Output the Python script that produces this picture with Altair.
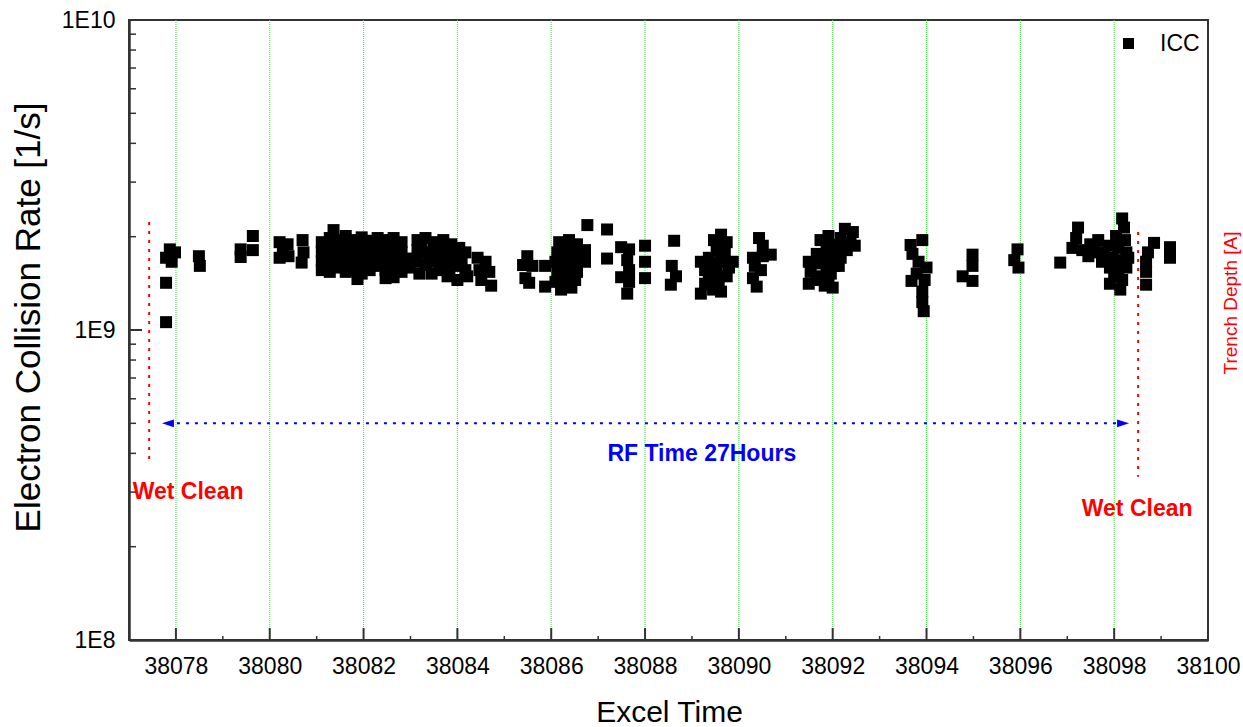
import altair as alt
import pandas as pd

FONT = "Liberation Sans"

# ---- ICC series (Excel time, electron collision rate in 1/s) ----
icc_time = [
    38077.87, 38077.98, 38077.79, 38077.91, 38077.79, 38077.79,
    38078.49, 38078.51,
    38079.38, 38079.38, 38079.64, 38079.64,
    38080.21, 38080.38, 38080.21, 38080.40, 38080.28,
    38080.70, 38080.72, 38080.68,
    38081.11, 38081.11, 38081.11, 38081.11,
    38081.28, 38081.28, 38081.28, 38081.28, 38081.28,
    38081.36,
    38081.45, 38081.45, 38081.45, 38081.45,
    38081.62, 38081.62, 38081.62, 38081.62, 38081.62,
    38081.79, 38081.79, 38081.79, 38081.79,
    38081.87,
    38081.96, 38081.96, 38081.96, 38081.96, 38081.96,
    38082.13, 38082.13, 38082.13, 38082.13,
    38082.30, 38082.30, 38082.30, 38082.30,
    38082.47, 38082.47, 38082.47, 38082.47, 38082.47,
    38082.64, 38082.64, 38082.64, 38082.64, 38082.64,
    38082.81, 38082.81, 38082.81, 38082.81,
    38082.98, 38082.98,
    38081.19, 38081.19, 38081.19, 38081.53, 38081.53, 38081.53,
    38081.70, 38081.70, 38081.70, 38082.04, 38082.04, 38082.04,
    38082.21, 38082.21, 38082.21, 38082.38, 38082.38, 38082.38,
    38082.55, 38082.55, 38082.55, 38082.72, 38082.72, 38082.72,
    38083.15, 38083.15, 38083.15, 38083.32, 38083.32, 38083.49, 38083.36,
    38083.53, 38083.53, 38083.19, 38083.45, 38083.70, 38083.70, 38083.87,
    38083.87, 38084.04, 38084.17, 38084.17, 38083.74, 38083.96, 38083.79,
    38084.00, 38084.21,
    38083.23, 38083.40, 38083.62, 38083.62, 38083.96, 38084.09, 38083.83,
    38084.43, 38084.60, 38084.47, 38084.68, 38084.51, 38084.72,
    38085.49, 38085.40, 38085.60, 38085.45, 38085.53,
    38085.87, 38085.87,
    38086.17, 38086.38, 38086.55, 38086.13, 38086.34, 38086.55, 38086.72,
    38086.09, 38086.30, 38086.51, 38086.72, 38086.13, 38086.34, 38086.55,
    38086.09, 38086.30, 38086.51, 38086.21, 38086.43, 38086.77,
    38086.21, 38086.47, 38086.21, 38086.43, 38086.64, 38086.21, 38086.47,
    38086.21, 38086.43,
    38087.19, 38087.19,
    38087.49, 38087.66, 38087.62, 38087.66, 38087.49, 38087.66, 38087.62,
    38088.00, 38088.00, 38088.00,
    38088.62, 38088.57, 38088.66, 38088.55,
    38089.47, 38089.62, 38089.74, 38089.19, 38089.36, 38089.53, 38089.70,
    38089.87, 38089.28, 38089.45, 38089.62, 38089.79, 38089.36, 38089.57,
    38089.19, 38089.45, 38089.62,
    38089.53, 38089.40, 38089.70, 38089.53, 38089.28, 38089.74,
    38090.43, 38090.51, 38090.30, 38090.51, 38090.68, 38090.34, 38090.47,
    38090.30, 38090.38,
    38092.26, 38092.43, 38092.17, 38092.38, 38092.09, 38092.30, 38092.47,
    38091.74, 38091.91, 38091.87, 38091.66, 38091.83, 38092.00, 38092.17,
    38091.49, 38091.66, 38091.87, 38092.04, 38091.53, 38091.74, 38091.96,
    38091.49, 38091.83, 38092.00,
    38092.00, 38092.21, 38091.74, 38092.13, 38091.66, 38091.91,
    38093.91, 38093.66, 38093.70, 38093.83, 38094.00, 38093.79, 38093.96,
    38093.68, 38093.91, 38093.91, 38093.94,
    38094.77, 38094.98, 38094.98, 38094.98,
    38095.94, 38095.87, 38095.96,
    38096.85,
    38097.23, 38097.19, 38097.11, 38097.32, 38097.49, 38097.66, 38097.45,
    38097.66, 38097.74, 38098.17, 38098.21, 38098.04, 38098.23, 38097.87,
    38098.09, 38098.26, 38097.96, 38098.17, 38098.09, 38098.26, 38098.00,
    38098.17, 38097.91, 38098.13,
    38097.79, 38097.91, 38098.30, 38097.57,
    38098.85, 38098.72, 38098.68, 38098.68, 38098.68,
    38099.19, 38099.19,
]

icc_rate = [
    1.82e9, 1.78e9, 1.71e9, 1.66e9, 1.42e9, 1.06e9,
    1.73e9, 1.61e9,
    1.82e9, 1.72e9, 2.01e9, 1.81e9,
    1.92e9, 1.89e9, 1.71e9, 1.73e9, 1.81e9,
    1.95e9, 1.78e9, 1.65e9,
    1.92e9, 1.79e9, 1.67e9, 1.56e9,
    1.98e9, 1.85e9, 1.73e9, 1.62e9, 1.54e9,
    2.10e9,
    1.95e9, 1.81e9, 1.70e9, 1.59e9,
    2.01e9, 1.88e9, 1.76e9, 1.65e9, 1.54e9,
    1.95e9, 1.81e9, 1.68e9, 1.56e9,
    1.46e9,
    1.99e9, 1.87e9, 1.73e9, 1.61e9, 1.52e9,
    1.94e9, 1.79e9, 1.67e9, 1.56e9,
    1.98e9, 1.85e9, 1.72e9, 1.61e9,
    1.95e9, 1.81e9, 1.68e9, 1.56e9, 1.47e9,
    1.98e9, 1.84e9, 1.71e9, 1.59e9, 1.48e9,
    1.92e9, 1.78e9, 1.66e9, 1.54e9,
    1.70e9, 1.59e9,
    1.88e9, 1.75e9, 1.62e9, 1.88e9, 1.75e9, 1.62e9,
    1.88e9, 1.75e9, 1.62e9, 1.88e9, 1.75e9, 1.62e9,
    1.88e9, 1.75e9, 1.62e9, 1.88e9, 1.75e9, 1.62e9,
    1.88e9, 1.75e9, 1.62e9, 1.88e9, 1.75e9, 1.62e9,
    1.95e9, 1.81e9, 1.66e9, 1.98e9, 1.62e9, 1.92e9, 1.78e9,
    1.81e9, 1.66e9, 1.52e9, 1.52e9, 1.95e9, 1.78e9, 1.89e9,
    1.73e9, 1.84e9, 1.78e9, 1.56e9, 1.64e9, 1.61e9, 1.49e9,
    1.45e9, 1.49e9,
    1.87e9, 1.71e9, 1.87e9, 1.56e9, 1.81e9, 1.68e9, 1.56e9,
    1.71e9, 1.66e9, 1.56e9, 1.54e9, 1.45e9, 1.39e9,
    1.73e9, 1.62e9, 1.61e9, 1.47e9, 1.42e9,
    1.61e9, 1.38e9,
    1.92e9, 1.95e9, 1.89e9, 1.78e9, 1.81e9, 1.76e9, 1.81e9,
    1.66e9, 1.66e9, 1.66e9, 1.66e9, 1.54e9, 1.54e9, 1.54e9,
    1.43e9, 1.41e9, 1.45e9, 1.35e9, 1.37e9, 2.18e9,
    1.85e9, 1.85e9, 1.71e9, 1.72e9, 1.73e9, 1.59e9, 1.60e9,
    1.47e9, 1.46e9,
    2.11e9, 1.70e9,
    1.85e9, 1.82e9, 1.68e9, 1.56e9, 1.48e9, 1.43e9, 1.31e9,
    1.87e9, 1.66e9, 1.47e9,
    1.94e9, 1.61e9, 1.49e9, 1.40e9,
    1.95e9, 2.03e9, 1.92e9, 1.66e9, 1.71e9, 1.81e9, 1.78e9,
    1.66e9, 1.56e9, 1.59e9, 1.66e9, 1.59e9, 1.47e9, 1.45e9,
    1.31e9, 1.35e9, 1.33e9,
    1.87e9, 1.65e9, 1.66e9, 1.52e9, 1.41e9, 1.49e9,
    1.98e9, 1.87e9, 1.71e9, 1.73e9, 1.75e9, 1.61e9, 1.56e9,
    1.47e9, 1.38e9,
    2.12e9, 2.07e9, 1.98e9, 1.92e9, 1.84e9, 1.81e9, 1.87e9,
    1.95e9, 2.01e9, 1.87e9, 1.76e9, 1.73e9, 1.73e9, 1.71e9,
    1.66e9, 1.64e9, 1.61e9, 1.61e9, 1.54e9, 1.49e9, 1.52e9,
    1.41e9, 1.39e9, 1.37e9,
    1.88e9, 1.84e9, 1.66e9, 1.61e9, 1.45e9, 1.44e9,
    1.95e9, 1.88e9, 1.76e9, 1.66e9, 1.59e9, 1.52e9, 1.45e9,
    1.44e9, 1.33e9, 1.23e9, 1.15e9,
    1.49e9, 1.75e9, 1.61e9, 1.44e9,
    1.82e9, 1.68e9, 1.59e9,
    1.65e9,
    2.14e9, 1.98e9, 1.84e9, 1.81e9, 1.89e9, 1.95e9, 1.73e9,
    1.78e9, 1.66e9, 2.29e9, 2.14e9, 2.01e9, 1.95e9, 1.87e9,
    1.84e9, 1.78e9, 1.71e9, 1.68e9, 1.56e9, 1.59e9, 1.49e9,
    1.45e9, 1.41e9, 1.35e9,
    1.78e9, 1.59e9, 1.71e9, 1.81e9,
    1.91e9, 1.78e9, 1.66e9, 1.54e9, 1.40e9,
    1.85e9, 1.71e9,
]

# ---- axes / ticks ----
x_tick_values = [38078, 38080, 38082, 38084, 38086, 38088, 38090, 38092,
                 38094, 38096, 38098, 38100]
grid_times = [38078, 38080, 38082, 38084, 38086, 38088, 38090, 38092,
              38094, 38096, 38098]
x_minor_ticks = [38079, 38081, 38083, 38085, 38087, 38089, 38091, 38093,
                 38095, 38097, 38099]
y_tick_values = [1e8, 1e9, 1e10]
y_major_inner = [1e9]
y_minor_ticks = [2e8, 3e8, 4e8, 5e8, 6e8, 7e8, 8e8, 9e8,
                 2e9, 3e9, 4e9, 5e9, 6e9, 7e9, 8e9, 9e9]

# ---- annotations ----
wet_line_time = [38077.43, 38098.51]
wet_line_top = [2.23e9, 2.07e9]
wet_line_bottom = [3.67e8, 3.36e8]
wet_label_time = [38078.26, 38098.49]
wet_label_rate = [2.85e8, 2.51e8]
wet_label_text = ["Wet Clean", "Wet Clean"]
rf_arrow_start = [38077.83]
rf_arrow_end = [38098.19]
rf_arrow_rate = [5.0e8]
rf_label_time = [38089.21]
rf_label_rate = [3.78e8]
rf_label_text = ["RF Time 27Hours"]
right_axis_title = ["Trench Depth [A]"]

# ---- frames ----
icc_df = pd.DataFrame({"time": icc_time, "rate": icc_rate,
                       "series": ["ICC"] * len(icc_time)})
grid_df = pd.DataFrame({"time": grid_times})
xmaj_df = pd.DataFrame({"time": x_tick_values})
xmin_df = pd.DataFrame({"time": x_minor_ticks})
ymaj_df = pd.DataFrame({"rate": y_major_inner})
ymin_df = pd.DataFrame({"rate": y_minor_ticks})
wet_line_df = pd.DataFrame({"time": wet_line_time, "rate": wet_line_top,
                            "rate2": wet_line_bottom})
wet_label_df = pd.DataFrame({"time": wet_label_time, "rate": wet_label_rate,
                             "label": wet_label_text})
rf_df = pd.DataFrame({"time": rf_arrow_start, "time2": rf_arrow_end,
                      "rate": rf_arrow_rate})
rf_left_df = pd.DataFrame({"time": rf_arrow_start, "rate": rf_arrow_rate})
rf_right_df = pd.DataFrame({"time": rf_arrow_end, "rate": rf_arrow_rate})
rf_label_df = pd.DataFrame({"time": rf_label_time, "rate": rf_label_rate,
                            "label": rf_label_text})
right_title_df = pd.DataFrame({"label": right_axis_title})

W, H = 1079, 620
xs = alt.Scale(domain=[38077, 38100], nice=False, zero=False)
ys = alt.Scale(type="log", domain=[1e8, 1e10], nice=False)

x_axis = alt.Axis(
    values=x_tick_values, format="d", ticks=False, grid=False,
    labelFontSize=23, labelPadding=33, labelBaseline="alphabetic",
    labelFlush=False, labelOverlap=False,
    title="Excel Time", titleFontSize=30, titleFontWeight="normal",
    titleX=540, titleY=81, titleAlign="center", titleBaseline="alphabetic",
)
y_axis = alt.Axis(
    values=y_tick_values, ticks=False, grid=False,
    labelExpr="'1E' + round(log(datum.value) / LN10)",
    labelFontSize=23, labelPadding=14, labelFlush=False, labelOverlap=False,
    title="Electron Collision Rate [1/s]", titleFontSize=35,
    titleFontWeight="normal", titleAngle=270, titleX=-90, titleY=297,
    titleAlign="center", titleBaseline="alphabetic",
)

grid = alt.Chart(grid_df).mark_rule(
    color="#44dd44", strokeDash=[1, 1], strokeWidth=1
).encode(
    x=alt.X("time:Q", scale=xs, axis=x_axis),
    y=alt.value(0), y2=alt.value(H),
)

wet_lines = alt.Chart(wet_line_df).mark_rule(
    color="#ff0000", strokeDash=[3, 6], strokeWidth=2
).encode(
    x=alt.X("time:Q", scale=xs),
    y=alt.Y("rate:Q", scale=ys),
    y2="rate2:Q",
)

rf_line = alt.Chart(rf_df).mark_rule(
    color="#0000ff", strokeDash=[3, 6], strokeWidth=2
).encode(
    x=alt.X("time:Q", scale=xs), x2="time2:Q",
    y=alt.Y("rate:Q", scale=ys),
)

rf_left = alt.Chart(rf_left_df).mark_point(
    shape="M -1 0 L 1 -0.65 L 1 0.65 Z", filled=True, size=144,
    color="#0000ff", opacity=1, strokeWidth=0
).encode(x=alt.X("time:Q", scale=xs), y=alt.Y("rate:Q", scale=ys))

rf_right = alt.Chart(rf_right_df).mark_point(
    shape="M 1 0 L -1 -0.65 L -1 0.65 Z", filled=True, size=144,
    color="#0000ff", opacity=1, strokeWidth=0
).encode(x=alt.X("time:Q", scale=xs), y=alt.Y("rate:Q", scale=ys))

wet_text = alt.Chart(wet_label_df).mark_text(
    font=FONT, fontSize=23, fontWeight="bold", color="#ff0000",
    align="center", baseline="alphabetic"
).encode(x=alt.X("time:Q", scale=xs), y=alt.Y("rate:Q", scale=ys),
         text="label:N")

rf_text = alt.Chart(rf_label_df).mark_text(
    font=FONT, fontSize=23, fontWeight="bold", color="#0000ff",
    align="center", baseline="alphabetic"
).encode(x=alt.X("time:Q", scale=xs), y=alt.Y("rate:Q", scale=ys),
         text="label:N")

points = alt.Chart(icc_df).mark_square(size=144, opacity=1, filled=True).encode(
    x=alt.X("time:Q", scale=xs),
    y=alt.Y("rate:Q", scale=ys, axis=y_axis),
    color=alt.Color(
        "series:N",
        scale=alt.Scale(domain=["ICC"], range=["#000000"]),
        legend=alt.Legend(
            title=None, orient="none", legendX=988, legendY=12,
            symbolType="square", symbolSize=121, symbolStrokeWidth=0,
            labelFontSize=23, labelFont=FONT, labelOffset=20, padding=0,
        ),
    ),
)

xmaj = alt.Chart(xmaj_df).mark_rule(color="#333333", strokeWidth=2).encode(
    x=alt.X("time:Q", scale=xs), y=alt.value(H), y2=alt.value(H - 12))
xmin = alt.Chart(xmin_df).mark_rule(color="#333333", strokeWidth=1.5).encode(
    x=alt.X("time:Q", scale=xs), y=alt.value(H), y2=alt.value(H - 4))
ymaj = alt.Chart(ymaj_df).mark_rule(color="#333333", strokeWidth=2).encode(
    y=alt.Y("rate:Q", scale=ys), x=alt.value(0), x2=alt.value(13))
ymin = alt.Chart(ymin_df).mark_rule(color="#333333", strokeWidth=1.5).encode(
    y=alt.Y("rate:Q", scale=ys), x=alt.value(0), x2=alt.value(7))

right_title = alt.Chart(right_title_df).mark_text(
    font=FONT, fontSize=19, color="#ff0000", angle=270,
    align="center", baseline="alphabetic"
).encode(x=alt.value(1108), y=alt.value(283), text="label:N")

chart = alt.layer(
    grid, wet_lines, rf_line, rf_left, rf_right, wet_text, rf_text,
    points, xmaj, xmin, ymaj, ymin, right_title
).properties(
    width=W, height=H,
    autosize=alt.AutoSizeParams(type="none"),
    padding={"left": 129, "top": 20, "right": 35, "bottom": 87},
    background="white",
).configure_view(
    stroke="#333333", strokeWidth=2
).configure_axis(
    labelFont=FONT, titleFont=FONT, labelColor="#000000", titleColor="#000000",
    domainColor="#333333", domainWidth=2.5,
).configure_legend(
    labelFont=FONT, labelColor="#000000",
)

chart.save("out.html", embed_options={"renderer": "svg", "actions": False})
